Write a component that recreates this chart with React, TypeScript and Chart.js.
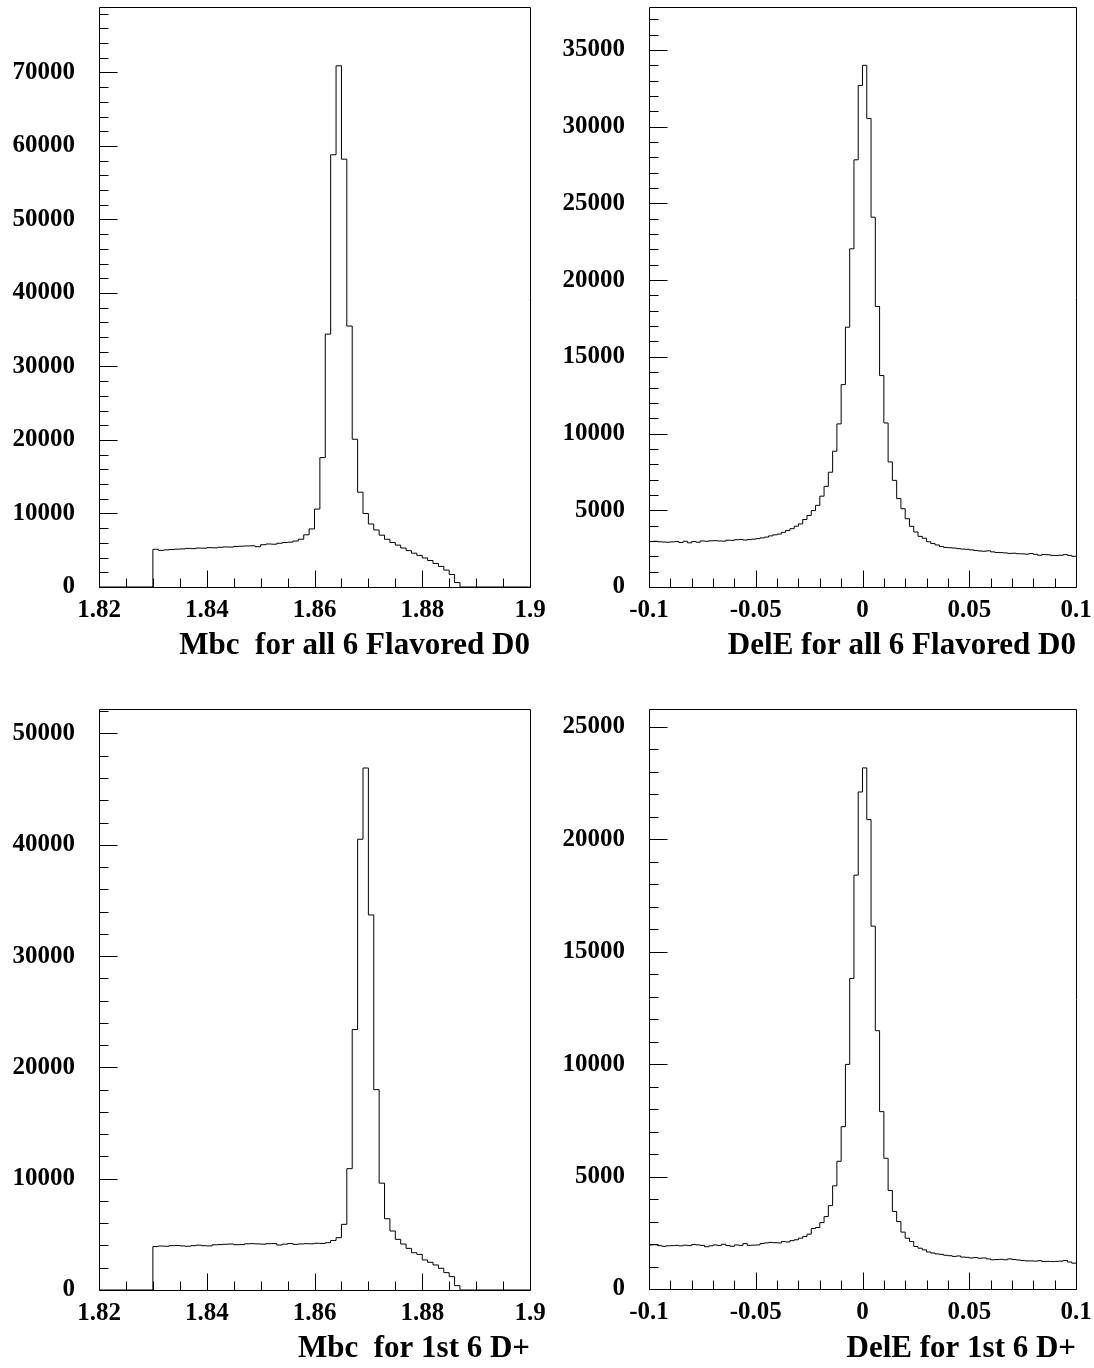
import React, { useEffect, useRef } from "react";
import { Chart, registerables } from "chart.js";

Chart.register(...registerables);

// ---------- data ----------
// Mbc histograms: bins of 0.001 GeV starting at 1.830
const MBC_LOW = 1.83;
const MBC_BIN = 0.001;
const MBC_D0 = [
  5130, 4980, 5050, 5100, 5150, 5180, 5250, 5220, 5300, 5280,
  5350, 5330, 5400, 5450, 5430, 5520, 5550, 5580, 5600, 5480,
  5750, 5850, 5820, 5950, 6050, 6100, 6250, 6500, 7100, 7900,
  10600, 17600, 34400, 58800, 70900, 58200, 35500, 20100, 12900, 10000,
  8570, 7760, 7050, 6490, 6050, 5700, 5300, 4950, 4600, 4300,
  3950, 3600, 3200, 2800, 2300, 1700, 600,
];
const MBC_DP = [
  3900, 3950, 3930, 3980, 4000, 3960, 3930, 3980, 4030, 3980,
  3960, 4060, 4080, 4110, 4130, 4070, 4080, 4150, 4160, 4140,
  4120, 4160, 4170, 4040, 4120, 4180, 4100, 4140, 4160, 4150,
  4200, 4180, 4250, 4450, 4700, 5900, 10900, 23400, 40500, 46900,
  33700, 18000, 9600, 6400, 5300, 4550, 4130, 3740, 3350, 3200,
  2700, 2490, 2250, 1950, 1560, 1200, 390,
];

// DelE histograms: 100 bins of 0.002 GeV from -0.1 to 0.1
const DELE_LOW = -0.1;
const DELE_BIN = 0.002;
const DELE_D0 = [
  2960, 2980, 2950, 2930, 2920, 2940, 2960, 2900, 2980, 2880,
  2960, 2920, 3000, 2980, 3010, 3020, 3000, 2990, 3050, 3040,
  3080, 3100, 3060, 3090, 3120, 3150, 3200, 3250, 3330, 3400,
  3450, 3560, 3680, 3800, 3960, 4110, 4400, 4660, 4980, 5320,
  5920, 6560, 7480, 8850, 10630, 13190, 16930, 22040, 27840, 32690,
  34000, 30540, 24100, 18280, 13780, 10690, 8150, 6950, 5760, 5100,
  4450, 3955, 3585, 3300, 3180, 2950, 2830, 2740, 2640, 2580,
  2560, 2540, 2500, 2470, 2460, 2420, 2380, 2350, 2330, 2360,
  2290, 2250, 2240, 2220, 2190, 2200, 2170, 2160, 2140, 2180,
  2130, 2070, 2120, 2100, 2060, 2050, 2070, 2110, 2060, 2000,
];
const DELE_DP = [
  1960, 1970, 1930, 1900, 1920, 1930, 1940, 1920, 1950, 1930,
  1980, 1960, 1940, 1880, 1920, 1960, 1940, 1990, 1930, 1900,
  1960, 1940, 2020, 1940, 1950, 1960, 2020, 2050, 2070, 2060,
  2050, 2110, 2090, 2150, 2190, 2260, 2335, 2440, 2690, 2735,
  2955, 3220, 3710, 4590, 5680, 7220, 9990, 13815, 18410, 22110,
  23180, 20880, 16140, 11490, 7890, 5815, 4380, 3450, 3000, 2530,
  2260, 2110, 1890, 1815, 1740, 1645, 1600, 1560, 1540, 1500,
  1480, 1450, 1470, 1420, 1410, 1380, 1400, 1370, 1380, 1340,
  1300, 1310, 1320, 1300, 1340, 1310, 1290, 1270, 1250, 1250,
  1240, 1260, 1220, 1230, 1220, 1230, 1240, 1270, 1200, 1150,
];

// ---------- tick labels ----------
const MBC_X_TICKS = [1.82, 1.84, 1.86, 1.88, 1.9];
const MBC_X_LABELS = ["1.82", "1.84", "1.86", "1.88", "1.9"];
const DELE_X_TICKS = [-0.1, -0.05, 0, 0.05, 0.1];
const DELE_X_LABELS = ["-0.1", "-0.05", "0", "0.05", "0.1"];
const Y_TICKS_A = [0, 10000, 20000, 30000, 40000, 50000, 60000, 70000];
const Y_TICKS_B = [0, 5000, 10000, 15000, 20000, 25000, 30000, 35000];
const Y_TICKS_C = [0, 10000, 20000, 30000, 40000, 50000];
const Y_TICKS_D = [0, 5000, 10000, 15000, 20000, 25000];

const TITLE_A = "Mbc  for all 6 Flavored D0";
const TITLE_B = "DelE for all 6 Flavored D0";
const TITLE_C = "Mbc  for 1st 6 D+";
const TITLE_D = "DelE for 1st 6 D+";

const FONT = "'Liberation Serif', 'Times New Roman', serif";

function histPoints(low: number, width: number, values: number[], axMin: number, axMax: number) {
  const pts: { x: number; y: number }[] = [];
  if (low > axMin + 1e-9) {
    pts.push({ x: axMin, y: 0 });
  }
  values.forEach((v, i) => pts.push({ x: +(low + i * width).toFixed(6), y: v }));
  const end = +(low + values.length * width).toFixed(6);
  if (end < axMax - 1e-9) {
    pts.push({ x: end, y: 0 });
    pts.push({ x: axMax, y: 0 });
  } else {
    pts.push({ x: end, y: values[values.length - 1] });
  }
  return pts;
}

const rootAxes = {
  id: "rootAxes",
  afterDatasetsDraw(chart: any, _args: any, opts: any) {
    const { ctx, chartArea } = chart;
    const { left, right, top, bottom } = chartArea;
    const xs = chart.scales.x;
    const ys = chart.scales.y;
    const r = (v: number) => Math.round(v) + 0.5;
    ctx.save();
    ctx.strokeStyle = "#000";
    ctx.lineWidth = 1;
    ctx.beginPath();
    ctx.moveTo(r(left), r(top));
    ctx.lineTo(r(right), r(top));
    ctx.lineTo(r(right), r(bottom));
    ctx.lineTo(r(left), r(bottom));
    ctx.closePath();
    // x ticks
    const nx = Math.round((xs.max - xs.min) / opts.xMinor);
    for (let i = 0; i <= nx; i++) {
      const v = xs.min + i * opts.xMinor;
      const major = opts.xMajor.some((m: number) => Math.abs(m - v) < opts.xMinor * 0.01);
      const px = r(xs.getPixelForValue(v));
      ctx.moveTo(px, r(bottom));
      ctx.lineTo(px, r(bottom) - (major ? 17 : 9));
    }
    const ny = Math.floor((ys.max - ys.min) / opts.yMinor + 1e-6);
    for (let i = 0; i <= ny; i++) {
      const v = ys.min + i * opts.yMinor;
      const major = opts.yMajor.some((m: number) => Math.abs(m - v) < opts.yMinor * 0.01);
      const py = r(ys.getPixelForValue(v));
      ctx.moveTo(r(left), py);
      ctx.lineTo(r(left) + (major ? 18 : 9), py);
    }
    ctx.stroke();
    ctx.restore();
  },
};

type Spec = {
  left: number;
  top: number;
  data: { x: number; y: number }[];
  xMin: number;
  xMax: number;
  xTicks: number[];
  xLabels: string[];
  xMinor: number;
  yMax: number;
  yTicks: number[];
  yMinor: number;
  title: string;
  pad: { left: number; right: number; top: number; bottom: number };
  yWidth: number;
  xHeight: number;
  titleBottom: number;
};

const W = 547;
const H = 684;

function Panel({ spec }: { spec: Spec }) {
  const ref = useRef<HTMLCanvasElement | null>(null);
  useEffect(() => {
    if (!ref.current) return;
    const tickFont = { family: FONT, size: 25, weight: "bold" as const };
    const chart = new Chart(ref.current, {
      type: "line",
      data: {
        datasets: [
          {
            data: spec.data,
            borderColor: "#000",
            borderWidth: 1,
            pointRadius: 0,
            fill: false,
            stepped: "before",
            tension: 0,
          },
        ],
      },
      options: {
        animation: false,
        responsive: false,
        devicePixelRatio: 1,
        parsing: false,
        normalized: true,
        layout: { padding: spec.pad },
        plugins: {
          legend: { display: false },
          tooltip: { enabled: false },
          rootAxes: {
            xMajor: spec.xTicks,
            xMinor: spec.xMinor,
            yMajor: spec.yTicks,
            yMinor: spec.yMinor,
          },
        } as any,
        scales: {
          x: {
            type: "linear",
            min: spec.xMin,
            max: spec.xMax,
            bounds: "data",
            afterBuildTicks: (s: any) => {
              s.ticks = spec.xTicks.map((v) => ({ value: v }));
            },
            afterFit: (s: any) => {
              s.height = spec.xHeight;
              s.paddingLeft = 0;
              s.paddingRight = 0;
            },
            ticks: {
              callback: (_v: any, i: number) => spec.xLabels[i],
              font: tickFont,
              color: "#000",
              padding: 9,
              maxRotation: 0,
              minRotation: 0,
              autoSkip: false,
            },
            grid: { display: false, drawTicks: false },
            border: { display: false },
            title: {
              display: true,
              text: spec.title,
              align: "end",
              color: "#000",
              font: { family: FONT, size: 31, weight: "bold" },
              padding: { top: 0, bottom: spec.titleBottom },
            },
          },
          y: {
            type: "linear",
            min: 0,
            max: spec.yMax,
            bounds: "data",
            afterBuildTicks: (s: any) => {
              s.ticks = spec.yTicks.map((v) => ({ value: v }));
            },
            afterFit: (s: any) => {
              s.width = spec.yWidth;
              s.paddingTop = 0;
              s.paddingBottom = 0;
            },
            ticks: {
              callback: (v: any) => String(v),
              font: tickFont,
              color: "#000",
              padding: 24,
              autoSkip: false,
            },
            grid: { display: false, drawTicks: false },
            border: { display: false },
          },
        },
      },
      plugins: [rootAxes],
    });
    return () => chart.destroy();
  }, [spec]);
  return (
    <canvas
      ref={ref}
      width={W}
      height={H}
      style={{ position: "absolute", left: spec.left, top: spec.top, width: W, height: H }}
    />
  );
}

const SPECS: Spec[] = [
  {
    left: 0,
    top: 0,
    data: histPoints(MBC_LOW, MBC_BIN, MBC_D0, 1.82, 1.9),
    xMin: 1.82,
    xMax: 1.9,
    xTicks: MBC_X_TICKS,
    xLabels: MBC_X_LABELS,
    xMinor: 0.005,
    yMax: 78900,
    yTicks: Y_TICKS_A,
    yMinor: 2000,
    title: TITLE_A,
    pad: { left: 0, right: 17, top: 7, bottom: 0 },
    yWidth: 99,
    xHeight: H - 587,
    titleBottom: 19,
  },
  {
    left: W,
    top: 0,
    data: histPoints(DELE_LOW, DELE_BIN, DELE_D0, -0.1, 0.1),
    xMin: -0.1,
    xMax: 0.1,
    xTicks: DELE_X_TICKS,
    xLabels: DELE_X_LABELS,
    xMinor: 0.01,
    yMax: 37800,
    yTicks: Y_TICKS_B,
    yMinor: 1000,
    title: TITLE_B,
    pad: { left: 0, right: 18, top: 7, bottom: 0 },
    yWidth: 102,
    xHeight: H - 587,
    titleBottom: 19,
  },
  {
    left: 0,
    top: H,
    data: histPoints(MBC_LOW, MBC_BIN, MBC_DP, 1.82, 1.9),
    xMin: 1.82,
    xMax: 1.9,
    xTicks: MBC_X_TICKS,
    xLabels: MBC_X_LABELS,
    xMinor: 0.005,
    yMax: 52200,
    yTicks: Y_TICKS_C,
    yMinor: 2000,
    title: TITLE_C,
    pad: { left: 0, right: 17, top: 25, bottom: 0 },
    yWidth: 99,
    xHeight: H - 606,
    titleBottom: 0,
  },
  {
    left: W,
    top: H,
    data: histPoints(DELE_LOW, DELE_BIN, DELE_DP, -0.1, 0.1),
    xMin: -0.1,
    xMax: 0.1,
    xTicks: DELE_X_TICKS,
    xLabels: DELE_X_LABELS,
    xMinor: 0.01,
    yMax: 25800,
    yTicks: Y_TICKS_D,
    yMinor: 1000,
    title: TITLE_D,
    pad: { left: 0, right: 18, top: 25, bottom: 0 },
    yWidth: 102,
    xHeight: H - 605,
    titleBottom: 0,
  },
];

export default function App() {
  return (
    <div
      style={{
        position: "absolute",
        left: 0,
        top: 0,
        width: 1094,
        height: 1368,
        background: "#fff",
        overflow: "hidden",
      }}
    >
      {SPECS.map((s, i) => (
        <Panel key={i} spec={s} />
      ))}
    </div>
  );
}
